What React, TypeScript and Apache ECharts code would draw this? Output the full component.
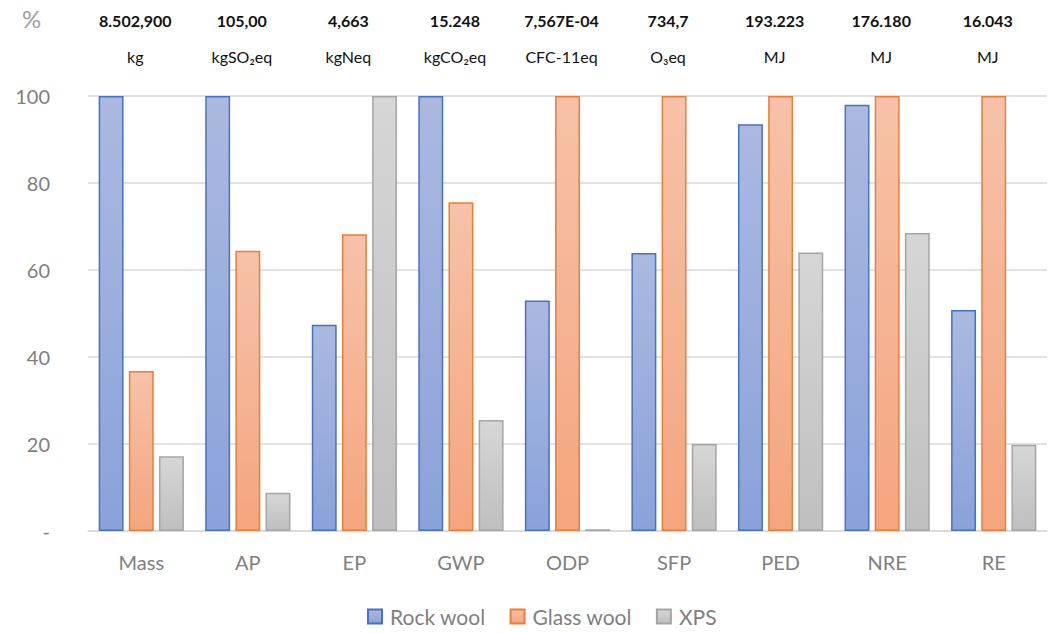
import React, { useEffect, useRef } from "react";
import * as echarts from "echarts";

// Impact categories and normalised results (% of the highest insulation material)
const categories = ["Mass", "AP", "EP", "GWP", "ODP", "SFP", "PED", "NRE", "RE"];
const rockWool = [100, 100, 47.4, 100, 53.0, 63.9, 93.5, 98.0, 50.8];
const glassWool = [36.8, 64.4, 68.2, 75.6, 100, 100, 100, 100, 100];
const xps = [17.2, 8.8, 100, 25.5, 0.4, 20.0, 64.0, 68.5, 19.8];

// Absolute value of the 100 % reference for each category, with its unit
const headerValues = ["8.502,900", "105,00", "4,663", "15.248", "7,567E-04", "734,7", "193.223", "176.180", "16.043"];
const headerUnits = ["kg", "kgSO₂eq", "kgNeq", "kgCO₂eq", "CFC-11eq", "O₃eq", "MJ", "MJ", "MJ"];

const yTicks = [0, 20, 40, 60, 80, 100];

const FONT = "Lato, 'Noto Sans', sans-serif";
const GREY_TEXT = "#7f7f7f";

const grad = (top: string, bottom: string) =>
  new echarts.graphic.LinearGradient(0, 0, 0, 1, [
    { offset: 0, color: top },
    { offset: 1, color: bottom },
  ]);

export default function App() {
  const ref = useRef<HTMLDivElement>(null);

  useEffect(() => {
    document.body.style.margin = "0";
    if (!ref.current) return;
    const chart = echarts.init(ref.current, null, { renderer: "svg" });

    const barSeries = (name: string, data: number[], top: string, bottom: string, border: string) => ({
      name,
      type: "bar",
      data,
      barGap: "21%",
      barCategoryGap: "20%",
      itemStyle: {
        color: grad(top, bottom),
        borderColor: border,
        borderWidth: 1.5,
      },
    });

    chart.setOption({
      animation: false,
      textStyle: { fontFamily: FONT },
      grid: { left: 88, right: 2, top: 96, bottom: 102 },
      graphic: [
        {
          type: "text",
          left: 22,
          top: 6,
          style: { text: "%", fontSize: 24, fill: "#a0a0a0", fontFamily: FONT },
        },
      ],
      legend: {
        bottom: 1,
        left: 362,
        icon: "rect",
        itemWidth: 14,
        itemHeight: 14,
        itemGap: 24,
        textStyle: { fontSize: 21, color: GREY_TEXT, fontFamily: FONT, padding: [0, 0, 0, 3] },
        data: ["Rock wool", "Glass wool", "XPS"],
      },
      xAxis: [
        {
          type: "category",
          data: categories,
          position: "bottom",
          axisLine: { lineStyle: { color: "#d9d9d9", width: 1.5 } },
          axisTick: { show: false },
          axisLabel: { fontSize: 20, color: GREY_TEXT, margin: 21, fontFamily: FONT, interval: 0 },
        },
        {
          type: "category",
          data: categories,
          position: "top",
          axisLine: { show: false },
          axisTick: { show: false },
          axisLabel: {
            interval: 0,
            margin: 22,
            padding: [0, 12, 0, 0],
            formatter: (_: string, i: number) => `{v|${headerValues[i]}}\n{u|${headerUnits[i]}}`,
            rich: {
              v: { fontSize: 16, fontWeight: "bold", color: "#111", lineHeight: 36, fontFamily: FONT },
              u: { fontSize: 16, color: "#111", lineHeight: 36, fontFamily: FONT },
            },
          },
        },
      ],
      yAxis: {
        type: "value",
        min: yTicks[0],
        max: yTicks[yTicks.length - 1],
        interval: 20,
        axisLine: { show: false },
        axisTick: { show: false },
        splitLine: { lineStyle: { color: "#d9d9d9", width: 1.5 } },
        axisLabel: {
          fontSize: 20,
          color: GREY_TEXT,
          margin: 38,
          fontFamily: FONT,
          formatter: (v: number) => (v === 0 ? "-" : String(v)),
        },
      },
      series: [
        barSeries("Rock wool", rockWool, "#abb9e0", "#8aa2da", "#4472c4"),
        barSeries("Glass wool", glassWool, "#f6c2a9", "#f4a57e", "#ed7d31"),
        barSeries("XPS", xps, "#d6d6d6", "#bfbfbf", "#a5a5a5"),
      ],
    });

    return () => chart.dispose();
  }, []);

  return <div ref={ref} style={{ width: 1049, height: 633 }} />;
}
